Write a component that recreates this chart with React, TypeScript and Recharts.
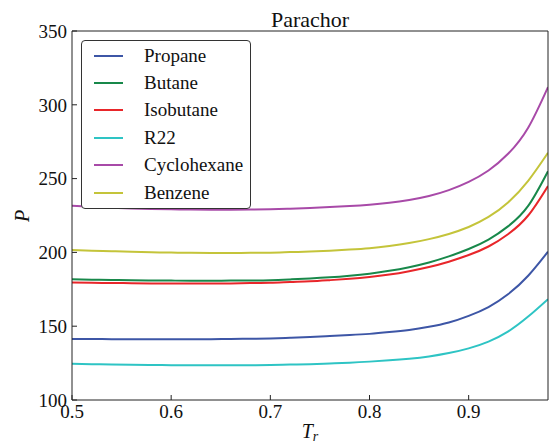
import { LineChart, Line, XAxis, YAxis } from 'recharts'

document.body.style.margin = '0'

// reduced temperature, every 0.02
const tr = [
  0.5, 0.52, 0.54, 0.56, 0.58, 0.6, 0.62, 0.64, 0.66, 0.68, 0.7, 0.72, 0.74,
  0.76, 0.78, 0.8, 0.82, 0.84, 0.86, 0.88, 0.9, 0.92, 0.94, 0.96, 0.98,
]

const propane = [
  141.4, 141.3, 141.2, 141.1, 141.1, 141.1, 141.1, 141.2, 141.3, 141.5, 141.7, 142.1, 142.6,
  143.3, 144, 144.8, 146, 147.5, 149.6, 152.5, 157, 163, 171.8, 184.2, 200.5,
]
const butane = [
  181.8, 181.5, 181.3, 181.1, 181, 180.9, 180.8, 180.8, 180.9, 181, 181.2, 181.7, 182.3,
  183.1, 184.2, 185.6, 187.5, 190, 193.2, 197.3, 202.3, 208.7, 217.8, 231.5, 255,
]
const isobutane = [
  179.6, 179.4, 179.3, 179.1, 179, 179, 178.9, 178.9, 179, 179.2, 179.4, 179.9, 180.4,
  181.2, 182.1, 183.3, 185, 187.3, 190.1, 193.7, 198.2, 204, 212.5, 225, 245,
]
const r22 = [
  124.6, 124.3, 124, 123.8, 123.7, 123.6, 123.5, 123.5, 123.5, 123.6, 123.7, 124, 124.3,
  124.8, 125.3, 126, 126.9, 128, 129.5, 131.8, 135, 139.6, 146.5, 156.5, 168.3,
]
const cyclohexane = [
  231.6, 230.9, 230.3, 229.8, 229.4, 229.2, 229, 228.9, 228.9, 229, 229.2, 229.6, 230.1,
  230.7, 231.4, 232.3, 233.6, 235.5, 238.2, 242.2, 247.8, 255.5, 267, 284.5, 312,
]
const benzene = [
  201.6, 201.2, 200.8, 200.4, 200.1, 199.9, 199.7, 199.6, 199.6, 199.7, 199.8, 200.2, 200.6,
  201.2, 201.9, 202.8, 204.3, 206.3, 209, 212.5, 217.2, 224, 234, 248.5, 267.5,
]

const xTicks = [0.5, 0.6, 0.7, 0.8, 0.9]
const yTicks = [100, 150, 200, 250, 300, 350]

const series = [
  { key: 'Propane', values: propane, color: '#3d56a6' },
  { key: 'Butane', values: butane, color: '#18884a' },
  { key: 'Isobutane', values: isobutane, color: '#e8262a' },
  { key: 'R22', values: r22, color: '#2ec4c4' },
  { key: 'Cyclohexane', values: cyclohexane, color: '#a84aa8' },
  { key: 'Benzene', values: benzene, color: '#c4c43a' },
]

const rows = tr.map((t, i) => {
  const row: Record<string, number> = { tr: t }
  series.forEach((s) => (row[s.key] = s.values[i]))
  return row
})

const font = 'Liberation Serif, DejaVu Serif, serif'

function LegendBox() {
  return (
    <div
      style={{
        position: 'absolute',
        left: 81,
        top: 40,
        border: '1px solid #333',
        borderRadius: 4,
        background: '#fff',
        width: 168,
        padding: '1px 0 2px 0',
        fontFamily: font,
        fontSize: 19,
        color: '#111',
      }}
    >
      {series.map((s) => (
        <div key={s.key} style={{ display: 'flex', alignItems: 'center', height: 27.4 }}>
          <span style={{ marginLeft: 12, width: 29, height: 2, background: s.color, display: 'inline-block' }} />
          <span style={{ marginLeft: 21 }}>{s.key}</span>
        </div>
      ))}
    </div>
  )
}

export default function App() {
  const tickStyle = { fontFamily: font, fontSize: 19, fill: '#111' }
  return (
    <div style={{ position: 'relative', width: 549, height: 444 }}>
      <LineChart width={549} height={444} data={rows} margin={{ top: 30, right: 0, bottom: 0, left: 0 }}>
        <XAxis
          dataKey="tr"
          type="number"
          domain={[0.5, 0.98]}
          ticks={xTicks}
          allowDataOverflow
          height={44}
          tickSize={-5}
          tickMargin={10}
          tickFormatter={(v) => v.toFixed(1)}
          tick={tickStyle}
          stroke="#222"
        />
        <XAxis
          xAxisId="top"
          orientation="top"
          type="number"
          domain={[0.5, 0.98]}
          ticks={xTicks}
          height={1}
          tickSize={-5}
          tick={false}
          stroke="#222"
        />
        <YAxis
          type="number"
          domain={[100, 350]}
          ticks={yTicks}
          width={72}
          tickSize={-5}
          tickMargin={10}
          tick={tickStyle}
          stroke="#222"
        />
        <YAxis
          yAxisId="right"
          orientation="right"
          type="number"
          domain={[100, 350]}
          ticks={yTicks}
          width={1}
          tickSize={-5}
          tick={false}
          stroke="#222"
        />
        {series.map((s) => (
          <Line
            key={s.key}
            dataKey={s.key}
            name={s.key}
            type="natural"
            stroke={s.color}
            strokeWidth={2}
            dot={false}
            isAnimationActive={false}
          />
        ))}
      </LineChart>
      <LegendBox />
      <svg
        width={549}
        height={444}
        style={{ position: 'absolute', left: 0, top: 0, pointerEvents: 'none', fontFamily: font }}
      >
        <text x={310} y={27} textAnchor="middle" fontSize={22} fill="#111">
          Parachor
        </text>
        <text x={310} y={438} textAnchor="middle" fontSize={20} fontStyle="italic" fill="#111">
          T<tspan fontSize={14} dy={3}>r</tspan>
        </text>
        <text transform="translate(29,216) rotate(-90)" textAnchor="middle" fontSize={20} fontStyle="italic" fill="#111">
          P
        </text>
      </svg>
    </div>
  )
}
